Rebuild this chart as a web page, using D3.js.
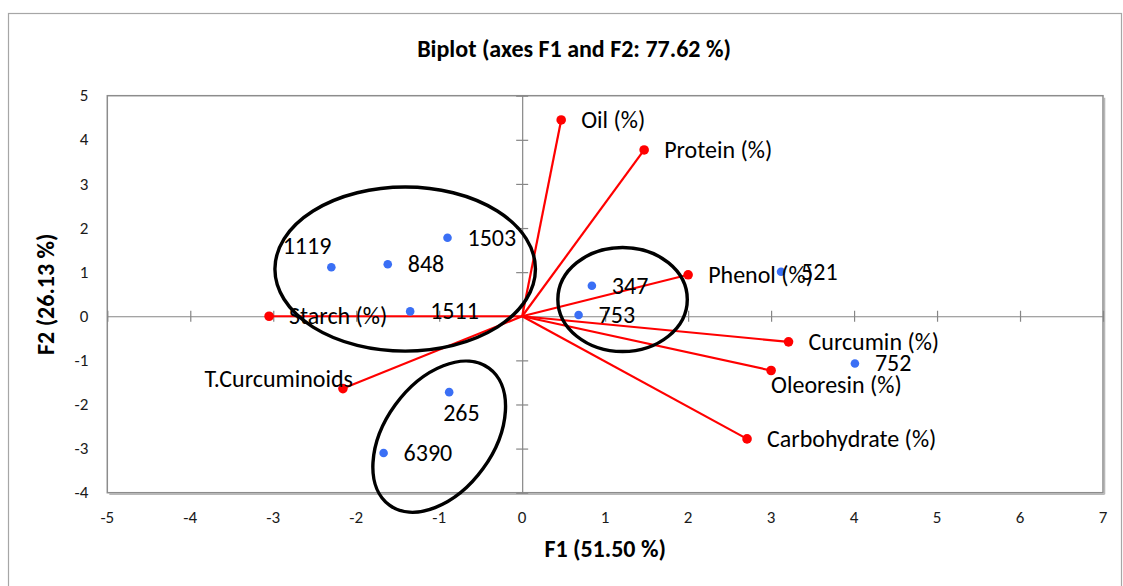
<!DOCTYPE html>
<html>
<head>
<meta charset="utf-8">
<script src="https://cdn.jsdelivr.net/npm/d3@7"></script>
<style>
  html, body { margin: 0; padding: 0; background: #fff; }
  svg { display: block; font-family: Calibri, Carlito, Lato, sans-serif; }
</style>
</head>
<body>
<svg id="chart" width="1123" height="586"></svg>
<script>
// Observations (genotypes) on the first two factors
const obsNames = ["1119", "848", "1503", "1511", "265", "6390", "347", "753", "521", "752"];
const obsF1 = [-2.30, -1.62, -0.90, -1.35, -0.88, -1.67, 0.84, 0.68, 3.12, 4.01];
const obsF2 = [1.11, 1.18, 1.78, 0.11, -1.72, -3.10, 0.69, 0.03, 1.01, -1.07];
const obsLabelPlace = ["aboveLeft", "right", "right", "right", "belowCentre", "right", "right", "right", "right", "right"];

// Variables (loadings) drawn as vectors from the origin
const varNames = ["Oil (%)", "Protein (%)", "Phenol (%)", "Curcumin (%)", "Oleoresin (%)", "Carbohydrate (%)", "Starch (%)", "T.Curcuminoids"];
const varF1 = [0.47, 1.47, 2.00, 3.21, 3.00, 2.71, -3.05, -2.16];
const varF2 = [4.45, 3.77, 0.94, -0.58, -1.23, -2.78, 0.00, -1.64];
const varLabelPlace = ["right", "right", "right", "right", "below", "right", "right", "leftAbove"];

// Group rings: centre and half-extents in factor units, tilt in degrees
const ringF1 = [-1.41, 1.21, -1.00];
const ringF2 = [1.07, 0.38, -2.73];
const ringHalfF1 = [1.57, 0.78, 1.02];
const ringHalfF2 = [1.86, 1.18, 1.23];
const ringTilt = [0, 0, -54];

// Axis ticks
const xTickValues = [-5, -4, -3, -2, -1, 0, 1, 2, 3, 4, 5, 6, 7];
const yTickValues = [-4, -3, -2, -1, 0, 1, 2, 3, 4, 5];

const chartTitle = "Biplot (axes F1 and F2: 77.62 %)";
const xTitle = "F1 (51.50 %)";
const yTitle = "F2 (26.13 %)";

const svg = d3.select("#chart");
const plot = { left: 107.3, right: 1103, top: 95.7, bottom: 492.7 };

const x = d3.scaleLinear().domain([-5, 7]).range([plot.left, plot.right]);
const y = d3.scaleLinear().domain([-4, 5]).range([plot.bottom, plot.top]);

const AXIS_GREY = "#868686";
const RED = "#ff0000";
const BLUE = "#3a6ff5";

// Outer chart frame
svg.append("rect")
  .attr("x", 8.5).attr("y", 13.5)
  .attr("width", 1113).attr("height", 600)
  .attr("fill", "none").attr("stroke", "#a6a6a6").attr("stroke-width", 1.2);

// Plot area frame with a soft shadow on the right and bottom edges
svg.append("line")
  .attr("x1", plot.right + 1.6).attr("x2", plot.right + 1.6)
  .attr("y1", plot.top + 2).attr("y2", plot.bottom + 1.6)
  .attr("stroke", "#b8b8b8").attr("stroke-width", 1.4);
svg.append("line")
  .attr("x1", plot.left + 2).attr("x2", plot.right + 1.6)
  .attr("y1", plot.bottom + 1.6).attr("y2", plot.bottom + 1.6)
  .attr("stroke", "#b8b8b8").attr("stroke-width", 1.4);
svg.append("rect")
  .attr("x", plot.left).attr("y", plot.top)
  .attr("width", plot.right - plot.left).attr("height", plot.bottom - plot.top)
  .attr("fill", "none").attr("stroke", "#8c8c8c").attr("stroke-width", 1.5);

// Axes crossing at the origin, with ticks straddling each line
const xAxisG = svg.append("g").attr("transform", `translate(0,${y(0)})`);
xAxisG.call(d3.axisBottom(x).tickValues(xTickValues).tickSize(0).tickFormat(""));
xAxisG.select(".domain").attr("stroke", AXIS_GREY).attr("stroke-width", 1.2);
xAxisG.selectAll(".tick").append("line")
  .attr("y1", -5.5).attr("y2", 5.5).attr("stroke", AXIS_GREY).attr("stroke-width", 1.2);

const yAxisG = svg.append("g").attr("transform", `translate(${x(0)},0)`);
yAxisG.call(d3.axisLeft(y).tickValues(yTickValues).tickSize(0).tickFormat(""));
yAxisG.select(".domain").attr("stroke", AXIS_GREY).attr("stroke-width", 1.2);
yAxisG.selectAll(".tick").append("line")
  .attr("x1", -6).attr("x2", 6).attr("stroke", AXIS_GREY).attr("stroke-width", 1.2);

// Tick labels sit outside the plot frame
const tickFont = 17;
svg.append("g").selectAll("text").data(xTickValues).join("text")
  .attr("x", d => x(d)).attr("y", plot.bottom + 25)
  .attr("dy", "0.33em")
  .attr("text-anchor", "middle")
  .attr("font-size", tickFont).attr("fill", "#1a1a1a")
  .text(d => d);
svg.append("g").selectAll("text").data(yTickValues).join("text")
  .attr("x", plot.left - 19).attr("y", d => y(d))
  .attr("dy", "0.33em")
  .attr("text-anchor", "end")
  .attr("font-size", tickFont).attr("fill", "#1a1a1a")
  .text(d => d);

// Titles
const titleFont = 24;
svg.append("text")
  .attr("x", 574).attr("y", 48.7).attr("dy", "0.33em")
  .attr("text-anchor", "middle").attr("font-weight", "bold")
  .attr("font-size", titleFont).attr("fill", "#000")
  .text(chartTitle);
svg.append("text")
  .attr("x", (plot.left + plot.right) / 2).attr("y", 549).attr("dy", "0.33em")
  .attr("text-anchor", "middle").attr("font-weight", "bold")
  .attr("font-size", titleFont).attr("fill", "#000")
  .text(xTitle);
svg.append("text")
  .attr("transform", `translate(46,${(plot.top + plot.bottom) / 2}) rotate(-90)`)
  .attr("dy", "0.33em")
  .attr("text-anchor", "middle").attr("font-weight", "bold")
  .attr("font-size", titleFont).attr("fill", "#000")
  .text(yTitle);

// Variable vectors
const vars = varNames.map((name, i) => ({ name, f1: varF1[i], f2: varF2[i], place: varLabelPlace[i] }));
const obs = obsNames.map((name, i) => ({ name, f1: obsF1[i], f2: obsF2[i], place: obsLabelPlace[i] }));

svg.append("g").selectAll("line").data(vars).join("line")
  .attr("x1", x(0)).attr("y1", y(0))
  .attr("x2", d => x(d.f1)).attr("y2", d => y(d.f2))
  .attr("stroke", RED).attr("stroke-width", 2.2);
svg.append("g").selectAll("circle").data(vars).join("circle")
  .attr("cx", d => x(d.f1)).attr("cy", d => y(d.f2))
  .attr("r", 4.8).attr("fill", RED);

// Observation points
svg.append("g").selectAll("circle").data(obs).join("circle")
  .attr("cx", d => x(d.f1)).attr("cy", d => y(d.f2))
  .attr("r", 4.3).attr("fill", BLUE);

// Group rings
const rings = ringF1.map((f1, i) => ({ f1, f2: ringF2[i], hx: ringHalfF1[i], hy: ringHalfF2[i], tilt: ringTilt[i] }));
svg.append("g").selectAll("ellipse").data(rings).join("ellipse")
  .attr("transform", d => `translate(${x(d.f1)},${y(d.f2)}) rotate(${d.tilt})`)
  .attr("rx", d => x(d.hx) - x(0))
  .attr("ry", d => y(0) - y(d.hy))
  .attr("fill", "none").attr("stroke", "#000").attr("stroke-width", 3.4);

// Label placement relative to each marker
const placements = {
  right:       { dx: 20, dy: 0,   anchor: "start" },
  below:       { dx: 0,  dy: 15,  anchor: "start" },
  belowCentre: { dx: -6, dy: 21,  anchor: "start" },
  aboveLeft:   { dx: 0,  dy: -21, anchor: "end" },
  leftAbove:   { dx: 10, dy: -10, anchor: "end" }
};
const labelFont = 24;
svg.append("g").selectAll("text").data(vars.concat(obs)).join("text")
  .attr("x", d => x(d.f1) + placements[d.place].dx)
  .attr("y", d => y(d.f2) + placements[d.place].dy)
  .attr("dy", "0.33em")
  .attr("text-anchor", d => placements[d.place].anchor)
  .attr("font-size", labelFont).attr("fill", "#000")
  .text(d => d.name);
</script>
</body>
</html>
